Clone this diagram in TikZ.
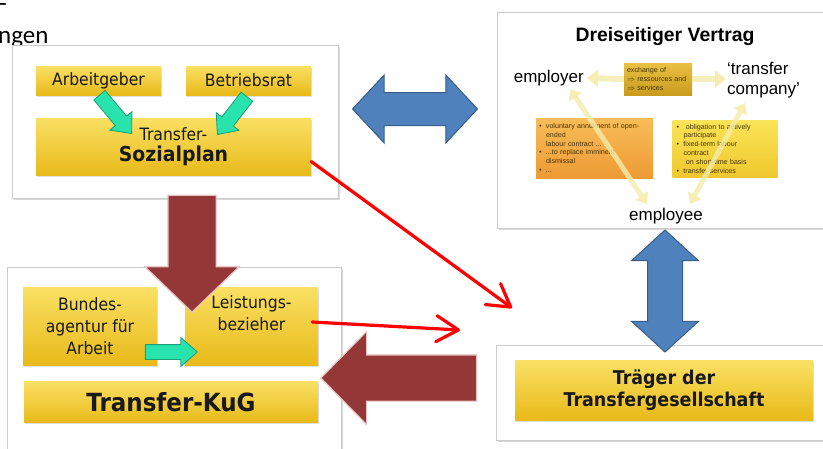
\documentclass[tikz,border=0pt]{standalone}
\usepackage{fontspec}
\usepackage{tikz}
\usetikzlibrary{positioning}
\usetikzlibrary{arrows.meta}
\usetikzlibrary{shapes.arrows}
\usetikzlibrary{shadows}

\newfontfamily\boxfont{DejaVu Sans}[FakeStretch=0.92]
\newfontfamily\arialfont{Liberation Sans}
\newfontfamily\slidefont{Carlito}

\definecolor{goldtop}{RGB}{250,224,100}
\definecolor{goldbot}{RGB}{232,186,26}
\definecolor{kugred}{RGB}{147,55,55}
\definecolor{kugredline}{RGB}{236,196,196}
\definecolor{blockblue}{RGB}{79,129,189}
\definecolor{blockblueline}{RGB}{56,93,138}
\definecolor{mint}{RGB}{40,228,172}
\definecolor{mintline}{RGB}{26,158,118}
\definecolor{exchtop}{RGB}{232,192,66}
\definecolor{exchbot}{RGB}{202,156,30}
\definecolor{orangetop}{RGB}{248,184,74}
\definecolor{orangebot}{RGB}{236,146,36}
\definecolor{yellowtop}{RGB}{251,226,74}
\definecolor{yellowbot}{RGB}{238,196,28}
\definecolor{softyellow}{RGB}{246,236,170}
\definecolor{smalltext}{RGB}{70,52,10}

\newcommand{\bul}{\makebox[7pt][l]{\textbullet}}
\newcommand{\ind}{\hspace*{7pt}}

\begin{document}
\begin{tikzpicture}[
            x = 1pt, y = -1pt, % pixel grid of the slide
            panel/.style = {draw = gray!40, fill = white, line width = 0.8pt,
                drop shadow = {shadow xshift = 1.5pt, shadow yshift = -2pt, opacity = 0.3}},
            boxtext/.style = {inner sep = 0pt, align = center, text = black!90,
                font = \boxfont\fontsize{17}{22}\selectfont},
            goldbox/.style = {boxtext, top color = goldtop, bottom color = goldbot, draw = none,
                drop shadow = {shadow xshift = 1pt, shadow yshift = -1.5pt, opacity = 0.25}},
            smallbox/.style = {draw = none, inner sep = 0pt, text = smalltext,
                align = left, text width = #1, font = \arialfont\fontsize{7.1}{8.8}\selectfont},
            bigword/.style = {inner sep = 0pt, font = \arialfont\fontsize{17}{20}\selectfont},
            kugarrow/.style = {single arrow, fill = kugred, draw = kugredline, line width = 1.2pt,
                inner xsep = 0pt, minimum width = 0pt},
            bluearrow/.style = {double arrow, fill = blockblue, draw = blockblueline, line width = 1pt,
                inner xsep = 0pt, minimum width = 0pt},
            mintarrow/.style = {single arrow, fill = mint, draw = mintline, line width = 0.8pt,
                inner xsep = 0pt, inner ysep = 7pt, minimum width = 0pt,
                single arrow head extend = 7pt, single arrow tip angle = 82},
            softarrow/.style = {draw = softyellow, line width = 6pt, opacity = 0.8,
                -{Triangle[width = 17pt, length = 11pt]}},
            softdouble/.style = {draw = softyellow, line width = 5pt, opacity = 0.8,
                {Triangle[width = 15pt, length = 10pt]}-{Triangle[width = 15pt, length = 10pt]}},
            redline/.style = {draw = red, line width = 3.2pt, line cap = round,
                -{Straight Barb[round, length = 22pt, width = 26pt]}}
        ]

        \useasboundingbox (0,0) rectangle (823,448);

	% rest of the slide title
        \node[inner sep = 0pt, anchor = base west, font = \slidefont\fontsize{25}{30}\selectfont] (dash) at (-1,11) {-};
        \node[inner sep = 0pt, anchor = base west, font = \slidefont\fontsize{25}{30}\selectfont] (title) at (-2,43) {ngen};

	% social plan
        \node[panel, minimum width = 326pt, minimum height = 153pt] (planpanel) at (175,121.5) {};
        \node[goldbox, minimum width = 125pt, minimum height = 29pt] (arbeitgeber) at (98.5,80.5) {Arbeitgeber};
        \node[goldbox, minimum width = 125pt, minimum height = 29pt] (betriebsrat) at (248.5,80.5) {Betriebsrat};
        \node[goldbox, minimum width = 275pt, minimum height = 57pt] (sozialplan) at (173.5,146.5)
            {Transfer-\\[-1pt]{\bfseries\fontsize{20.5}{24}\selectfont Sozialplan}};

        \node[mintarrow, minimum height = 50pt, rotate = -50, anchor = tip] (ag2sp) at (132,134) {};
        \node[mintarrow, minimum height = 48pt, rotate = -128, anchor = tip] (br2sp) at (217,135) {};

	% short-time allowance
        \node[panel, minimum width = 334pt, minimum height = 184pt] (kugpanel) at (174,359) {};
        \node[goldbox, minimum width = 134pt, minimum height = 78pt] (bundesagentur) at (90,326)
            {Bundes-\\agentur für\\Arbeit};
        \node[goldbox, minimum width = 133pt, minimum height = 78pt] (leistung) at (251.5,326) {};
        \node[boxtext, anchor = north] (leistungtext) at (251.5,295) {Leistungs-\\bezieher};
        \node[goldbox, minimum width = 294pt, minimum height = 41pt] (kug) at (171,402)
            {\bfseries\fontsize{25}{30}\selectfont Transfer-KuG};

        \node[mintarrow, minimum height = 52pt, anchor = tip] (ba2lb) at (198,352) {};

	% tripartite contract
        \node[panel, minimum width = 330pt, minimum height = 216pt] (vertragpanel) at (662,120) {};
        \node[inner sep = 0pt, font = \arialfont\bfseries\fontsize{19.4}{23}\selectfont] (vertrag) at (665,37) {Dreiseitiger Vertrag};

        \node[bigword, anchor = east] (employer) at (584,78) {employer};
        \node[bigword, anchor = west, align = left] (company) at (727,80) {‘transfer\\company’};
        \node[bigword] (employee) at (666,216) {employee};

        \node[smallbox = 62pt, top color = exchtop, bottom color = exchbot,
              minimum height = 32pt, inner xsep = 3pt] (exchange) at (658,79)
            {exchange of\\$\Rightarrow$ ressources and\\$\Rightarrow$ services};
        \node[smallbox = 111pt, top color = orangetop, bottom color = orangebot,
              minimum height = 60pt, inner xsep = 3pt, opacity = 0.92, text opacity = 1] (voluntary) at (594.5,148)
            {\bul voluntary annulment of open-\\\ind ended\\\ind labour contract ...\\\bul ...to replace imminent\\\ind dismissal\\\bul ...};
        \node[smallbox = 97pt, top color = yellowtop, bottom color = yellowbot,
              minimum height = 57pt, inner xsep = 4pt, opacity = 0.92, text opacity = 1] (obligation) at (725,148.5)
            {\bul\ obligation to actively\\\ind participate\\\bul fixed-term labour\\\ind contract\\\ind\ on short-time basis\\\bul transfer services};

        \coordinate (employer low) at (570,89);
        \coordinate (employee left) at (647,204);
        \coordinate (company low) at (745,103);
        \coordinate (employee right) at (690,204);

        \draw[softarrow] (exchange.west) -- ([xshift = 3pt]employer.east);
        \draw[softarrow] (exchange.east) -- ([xshift = -1pt]company.west |- exchange.east);
        \draw[softdouble] (employer low) -- (employee left);
        \draw[softdouble] (company low) -- (employee right);

	% carrier of the transfer company
        \node[panel, minimum width = 330pt, minimum height = 95pt] (traegerpanel) at (661,392.5) {};
        \node[goldbox, minimum width = 298pt, minimum height = 60pt] (traeger) at (664,390)
            {\bfseries\fontsize{19}{23}\selectfont Träger der\\\bfseries\fontsize{19}{23}\selectfont Transfergesellschaft};

	% block arrows between the panels
        \node[bluearrow, minimum height = 125pt, inner ysep = 16pt,
              double arrow head extend = 17.5pt, double arrow tip angle = 94] (plan2vertrag) at (415,109) {};
        \node[bluearrow, minimum height = 122pt, inner ysep = 17pt, rotate = 90,
              double arrow head extend = 16pt, double arrow tip angle = 95] (vertrag2traeger) at (665,291) {};

        \node[kugarrow, minimum height = 117pt, inner ysep = 23.5pt, rotate = -90, anchor = tip,
              single arrow head extend = 23pt, single arrow tip angle = 92] (plan2kug) at (192,313) {};
        \node[kugarrow, minimum height = 156pt, inner ysep = 22.5pt, rotate = 180, anchor = tip,
              single arrow head extend = 23.5pt, single arrow tip angle = 91] (traeger2kug) at (320,378) {};

	% red pointers
        \coordinate (planend) at (512,308);
        \coordinate (leistungend) at (460,330);

        \draw[redline] ([yshift = -15pt]sozialplan.east) -- (planend);
        \draw[redline] ([xshift = -6pt, yshift = 4pt]leistung.east) -- (leistungend);

\end{tikzpicture}
\end{document}
